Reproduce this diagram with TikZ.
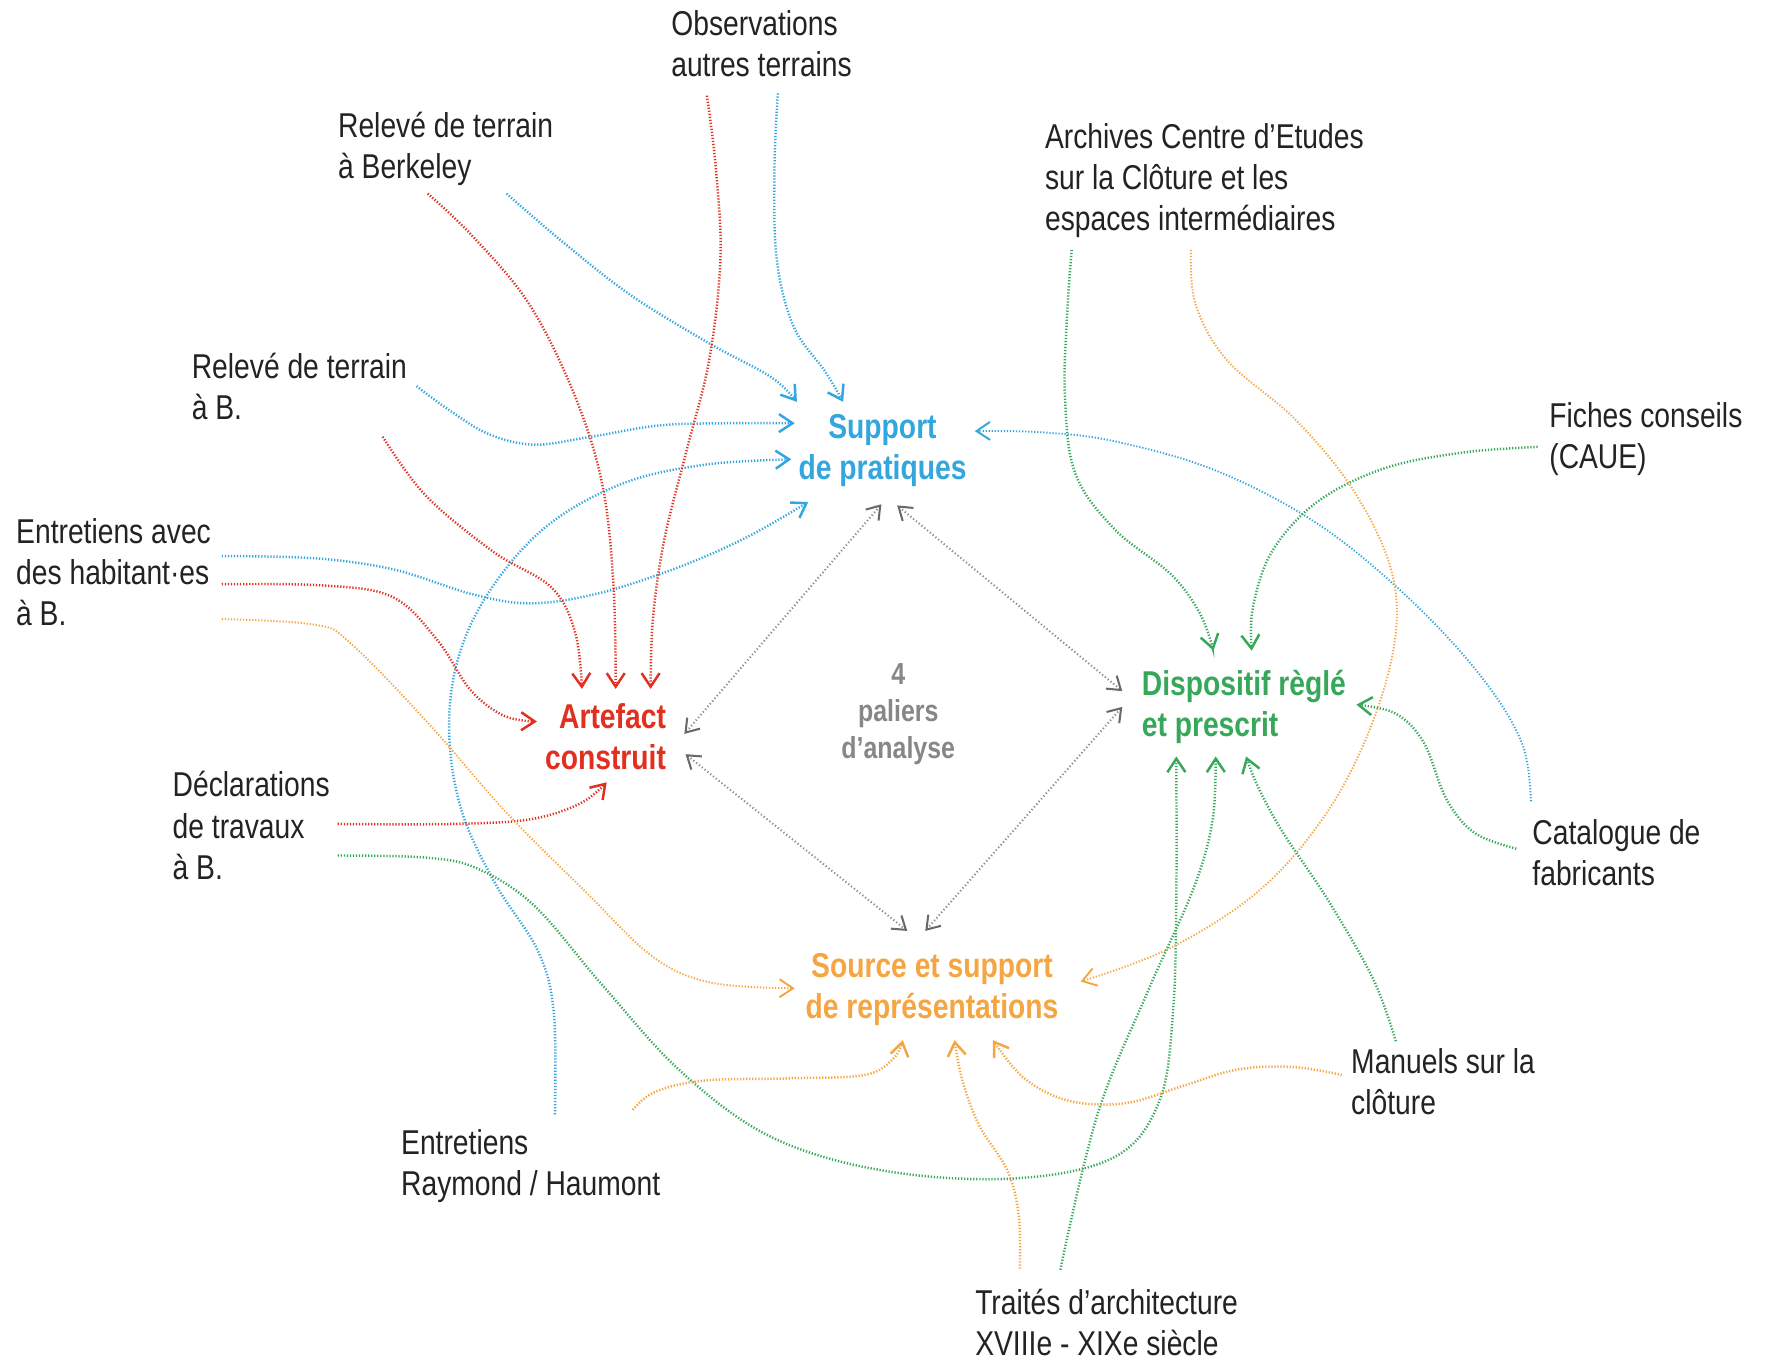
\documentclass[tikz,border=0pt]{standalone}
\usepackage{fontspec}
\setmainfont{Liberation Sans}[FakeStretch=0.82]
\usetikzlibrary{arrows.meta}
\definecolor{cblue}{RGB}{52,166,222}
\definecolor{cred}{RGB}{226,48,32}
\definecolor{cgreen}{RGB}{55,168,90}
\definecolor{corange}{RGB}{245,165,65}
\definecolor{cgray}{RGB}{135,135,135}
\definecolor{cgraytip}{RGB}{105,105,105}
\definecolor{labtext}{RGB}{35,35,35}
\tikzset{
  lab/.style={font=\fontsize{15.3}{18.25}\selectfont, text=labtext, align=left, inner sep=0pt, anchor=base west},
  hub/.style={font=\fontsize{15.3}{18.25}\selectfont\bfseries, inner sep=0pt},
  flow/.style={line width=1.1pt, dash pattern=on 0.55pt off 0.8pt,
    -{Straight Barb[length=6pt,width=8pt]}},
  link/.style={cgray, line width=0.9pt, dash pattern=on 0.5pt off 1.1pt,
    {Straight Barb[length=5.5pt,width=7.5pt,cgraytip]}-{Straight Barb[length=5.5pt,width=7.5pt,cgraytip]}},
  sm/.style={smooth, tension=0.6}
}
\begin{document}
\begin{tikzpicture}[x=0.5pt,y=-0.5pt]
\fill[white] (0,0) rectangle (1568,1214);
\useasboundingbox (0,0) rectangle (1568,1214);

% ---- labels (anchor = baseline of the last line) ----
\node[lab] (obs) at (596,68) {Observations\\autres terrains};
\node[lab] (berk) at (300,159) {Relevé de terrain\\à Berkeley};
\node[lab] (arch) at (928,205) {Archives Centre d’Etudes\\sur la Clôture et les\\espaces intermédiaires};
\node[lab] (relb) at (170,373) {Relevé de terrain\\à B.};
\node[lab] (fich) at (1376,416) {Fiches conseils\\(CAUE)};
\node[lab] (hab) at (14,556) {Entretiens avec\\des habitant·es\\à B.};
\node[lab] (decl) at (153,781) {Déclarations\\de travaux\\à B.};
\node[lab] (cat) at (1361,787) {Catalogue de\\fabricants};
\node[lab] (man) at (1200,990) {Manuels sur la\\clôture};
\node[lab] (ray) at (356,1062) {Entretiens\\Raymond / Haumont};
\node[lab] (trai) at (866,1204) {Traités d’architecture\\XVIIIe - XIXe siècle};

% ---- hubs ----
\node[hub, text=cblue, align=center, anchor=base] (sup) at (784,426) {Support\\de pratiques};
\node[hub, text=cred, align=right, anchor=base east] (art) at (592,684) {Artefact\\construit};
\node[hub, text=cgreen, align=left, anchor=base west] (dis) at (1014,654) {Dispositif règlé\\et prescrit};
\node[hub, text=corange, align=center, anchor=base] (src) at (828,905) {Source et support\\de représentations};
\node[font=\fontsize{13.5}{16.5}\selectfont\bfseries, text=cgray, align=center, anchor=base, inner sep=0pt] (pal) at (798,674) {4\\paliers\\d’analyse};

% ---- connector end points ----
\coordinate (obs-b) at (691,83);   \coordinate (sup-t2) at (749,357);
\coordinate (berk-b) at (450,172); \coordinate (sup-t1) at (708,357);
\coordinate (relb-b) at (370,343); \coordinate (sup-w1) at (706,376);
\coordinate (ray-b) at (493,990);  \coordinate (sup-w2) at (703,408);
\coordinate (hab-b) at (197,494);  \coordinate (sup-sw) at (718,446);
\coordinate (cat-b) at (1360,712); \coordinate (sup-e) at (866,383);

\coordinate (obs-r) at (628,85);   \coordinate (art-n3) at (578,612);
\coordinate (berk-r) at (380,172); \coordinate (art-n2) at (547,612);
\coordinate (relb-r) at (340,388); \coordinate (art-n1) at (517,612);
\coordinate (hab-r) at (197,519);  \coordinate (art-w) at (477,641);
\coordinate (decl-r) at (300,732); \coordinate (art-s) at (539,695);

\coordinate (arch-g) at (952,222); \coordinate (dis-n1) at (1078,578);
\coordinate (fich-g) at (1366,397); \coordinate (dis-n2) at (1112,578);
\coordinate (cat-g) at (1347,754); \coordinate (dis-e) at (1205,626);
\coordinate (man-g) at (1240,925); \coordinate (dis-s3) at (1107,672);
\coordinate (trai-g) at (942,1128); \coordinate (dis-s2) at (1080,672);
\coordinate (decl-g) at (300,760); \coordinate (dis-s1) at (1045,672);

\coordinate (arch-o) at (1058,222); \coordinate (src-e) at (960,872);
\coordinate (hab-o) at (197,550);   \coordinate (src-w) at (706,878);
\coordinate (ray-o) at (562,986);   \coordinate (src-s1) at (802,924);
\coordinate (trai-o) at (906,1127); \coordinate (src-s2) at (848,924);
\coordinate (man-o) at (1192,955);  \coordinate (src-s3) at (882,924);

\coordinate (sup-l) at (783,448); \coordinate (sup-r) at (797,449);
\coordinate (art-ru) at (608,652); \coordinate (art-rd) at (609,670);
\coordinate (dis-lu) at (997,614); \coordinate (dis-ld) at (997,628);
\coordinate (src-l) at (806,827); \coordinate (src-r) at (822,827);

% ---- blue: support de pratiques ----
\draw[flow,cblue] plot[sm] coordinates {(obs-b) (688,150) (690,230) (705,290) (733,330) (sup-t2)};
\draw[flow,cblue] plot[sm] coordinates {(berk-b) (500,215) (560,262) (630,305) (685,335) (sup-t1)};
\draw[flow,cblue] plot[sm] coordinates {(relb-b) (400,365) (435,386) (475,395) (525,388) (585,378) (645,376) (sup-w1)};
\draw[flow,cblue] plot[sm] coordinates {(ray-b) (492,900) (478,845) (440,785) (410,720) (399,650) (407,585) (435,525) (485,468) (552,430) (625,413) (sup-w2)};
\draw[flow,cblue] plot[sm] coordinates {(hab-b) (280,496) (350,506) (420,528) (472,536) (532,527) (600,505) (662,478) (sup-sw)};
\draw[flow,cblue,line width=0.85pt] plot[sm] coordinates {(cat-b) (1352,660) (1315,600) (1250,530) (1170,465) (1080,418) (990,392) (925,384) (sup-e)};

% ---- red: artefact construit ----
\draw[flow,cred] plot[sm] coordinates {(obs-r) (636,150) (640,230) (630,320) (610,400) (590,480) (580,550) (art-n3)};
\draw[flow,cred] plot[sm] coordinates {(berk-r) (420,210) (470,270) (510,350) (535,430) (545,520) (art-n2)};
\draw[flow,cred] plot[sm] coordinates {(relb-r) (378,440) (438,490) (490,522) (511,562) (art-n1)};
\draw[flow,cred] plot[sm] coordinates {(hab-r) (285,520) (348,530) (388,568) (418,613) (448,636) (art-w)};
\draw[flow,cred] plot[sm] coordinates {(decl-r) (400,732) (470,728) (515,714) (art-s)};

% ---- green: dispositif ----
\draw[flow,cgreen] plot[sm] coordinates {(arch-g) (948,280) (946,350) (955,420) (990,470) (1040,510) (1066,545) (dis-n1)};
\draw[flow,cgreen] plot[sm] coordinates {(fich-g) (1300,402) (1230,416) (1170,446) (1130,490) (1113,540) (dis-n2)};
\draw[flow,cgreen] plot[sm] coordinates {(cat-g) (1310,740) (1285,710) (1265,660) (1240,634) (dis-e)};
\draw[flow,cgreen] plot[sm] coordinates {(man-g) (1220,870) (1180,800) (1140,740) (1118,700) (dis-s3)};
\draw[flow,cgreen] plot[sm] coordinates {(trai-g) (975,990) (1020,880) (1060,790) (1077,730) (dis-s2)};
\draw[flow,cgreen] plot[sm] coordinates {(decl-g) (380,762) (425,772) (475,805) (535,875) (605,952) (685,1010) (785,1040) (900,1047) (990,1028) (1030,978) (1042,900) (1045,800) (dis-s1)};

% ---- orange: source et support ----
\draw[flow,corange,line width=0.85pt] plot[sm] coordinates {(arch-o) (1062,270) (1090,320) (1150,372) (1200,432) (1234,500) (1240,562) (1220,640) (1180,720) (1120,790) (1040,842) (src-e)};
\draw[flow,corange,line width=0.85pt] plot[sm] coordinates {(hab-o) (280,555) (312,572) (380,642) (450,722) (520,792) (580,850) (632,873) (src-w)};
\draw[flow,corange] plot[sm] coordinates {(ray-o) (582,970) (625,960) (700,958) (768,955) (794,940) (src-s1)};
\draw[flow,corange] plot[sm] coordinates {(trai-o) (905,1080) (895,1040) (870,1000) (855,960) (src-s2)};
\draw[flow,corange] plot[sm] coordinates {(man-o) (1150,948) (1100,950) (1050,965) (1000,980) (950,978) (910,958) (src-s3)};

% ---- gray: links between the four levels ----
\draw[link] (sup-l) -- (art-ru);
\draw[link] (sup-r) -- (dis-lu);
\draw[link] (art-rd) -- (src-l);
\draw[link] (dis-ld) -- (src-r);
\end{tikzpicture}
\end{document}
